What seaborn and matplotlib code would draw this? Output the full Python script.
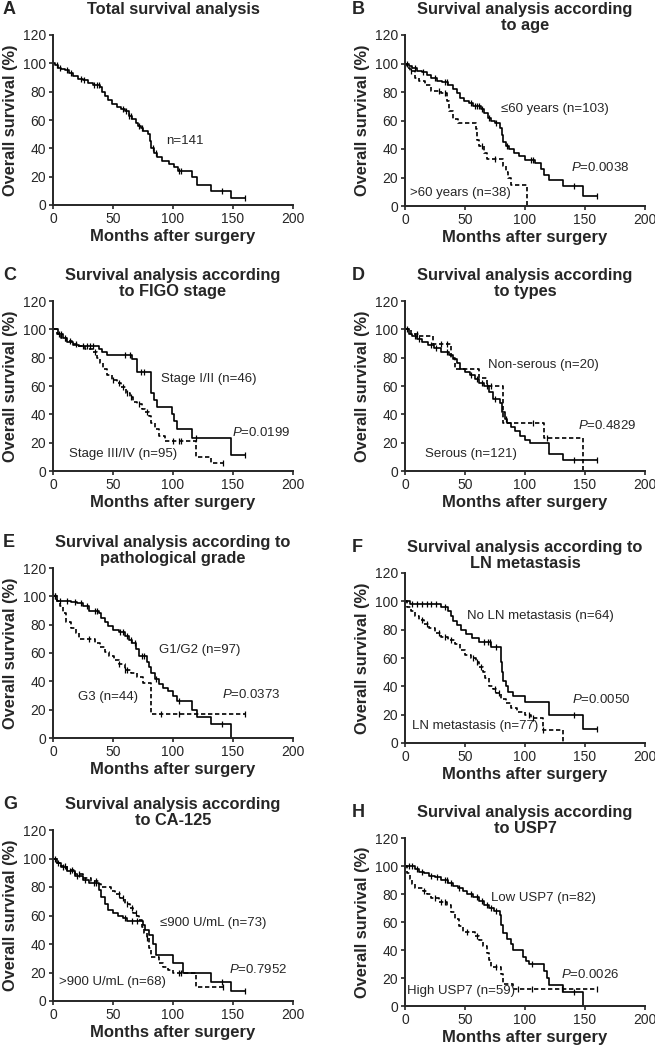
import numpy as np
import pandas as pd
import matplotlib
matplotlib.use("Agg")
import matplotlib.pyplot as plt
import seaborn as sns

# ---- data (months, % surviving) ----
# A: total
A_t = [0, 2, 4, 7, 10, 13, 17, 21, 25, 29, 33, 39, 41, 43, 46, 49, 53, 57, 60, 63, 66, 69, 71, 73, 75, 79, 81, 82, 84, 87, 91, 97, 101, 104, 116, 120, 132, 148, 160]
A_s = [100, 99, 97, 96, 95, 93, 91, 89, 88, 86, 85, 83, 80, 77, 74, 71, 69, 68, 66, 63, 61, 58, 56, 54, 52, 50, 45, 40, 37, 34, 31, 29, 27, 24, 20, 14, 10, 5, 5]
A_c = [3, 6, 12, 15, 23, 26, 34, 37, 38, 58, 61, 63, 65, 72, 74, 83, 86, 105, 107, 141, 160]

# B: age
B1_t = [0, 3, 6, 10, 14, 18, 22, 27, 31, 36, 40, 43, 46, 49, 53, 57, 63, 66, 69, 72, 75, 79, 81, 82, 84, 87, 91, 95, 100, 108, 113, 116, 120, 132, 148, 160]
B1_s = [100, 98, 97, 95, 94, 92, 90, 88, 87, 85, 82, 79, 76, 74, 72, 70, 68, 65, 62, 60, 58, 55, 50, 45, 42, 40, 37, 35, 32, 30, 26, 22, 18, 14, 7, 7]
B1_c = [2, 8, 15, 25, 33, 35, 55, 58, 60, 62, 64, 70, 76, 85, 105, 107, 141, 160]
B2_t = [0, 2, 4, 8, 12, 17, 22, 30, 35, 37, 40, 44, 59, 60, 62, 66, 68, 82, 84, 86, 88, 102]
B2_s = [100, 97, 95, 90, 88, 85, 81, 79, 74, 67, 61, 58, 54, 46, 42, 37, 33, 28, 24, 20, 15, 0]
B2_c = [5, 28, 33, 64, 75]

# C: FIGO stage
C1_t = [0, 4, 8, 12, 17, 22, 38, 41, 45, 66, 70, 82, 84, 87, 99, 101, 103, 116, 148, 160]
C1_s = [100, 97, 94, 91, 89, 88, 86, 84, 82, 79, 70, 55, 50, 45, 40, 35, 30, 23, 11, 11]
C1_c = [5, 7, 25, 28, 31, 33, 60, 64, 73, 76, 119, 160]
C2_t = [0, 3, 7, 11, 16, 21, 27, 33, 37, 39, 42, 45, 49, 53, 57, 61, 64, 67, 70, 74, 77, 80, 82, 85, 88, 93, 119, 132, 142]
C2_s = [100, 97, 94, 92, 90, 88, 86, 84, 80, 76, 72, 68, 64, 62, 59, 55, 52, 49, 47, 44, 42, 39, 34, 30, 25, 21, 10, 6, 6]
C2_c = [10, 14, 19, 35, 50, 55, 58, 62, 65, 72, 78, 100, 105, 107, 142]

# D: histological type
D1_t = [0, 3, 6, 10, 14, 19, 24, 30, 37, 40, 43, 46, 50, 54, 58, 62, 66, 70, 73, 79, 81, 83, 85, 88, 92, 96, 100, 104, 120, 132, 160]
D1_s = [100, 97, 95, 93, 91, 89, 87, 84, 82, 79, 76, 72, 70, 68, 65, 62, 60, 56, 51, 48, 42, 37, 34, 31, 28, 25, 22, 20, 12, 8, 8]
D1_c = [2, 8, 12, 22, 26, 35, 55, 60, 64, 68, 75, 84, 141, 160]
D2_t = [0, 5, 12, 23, 38, 42, 62, 68, 82, 116, 148]
D2_s = [100, 97, 95, 90, 80, 72, 66, 60, 34, 23, 0]
D2_c = [10, 30, 35, 72, 107, 118]

# E: pathological grade
E1_t = [0, 3, 15, 20, 25, 30, 38, 40, 43, 46, 50, 55, 60, 63, 66, 69, 72, 78, 80, 82, 85, 88, 92, 96, 100, 103, 116, 120, 132, 148]
E1_s = [100, 97, 96, 95, 93, 90, 88, 85, 82, 79, 76, 75, 72, 69, 67, 63, 58, 54, 50, 46, 42, 38, 35, 33, 30, 26, 20, 15, 10, 0]
E1_c = [2, 6, 12, 18, 23, 28, 35, 37, 56, 58, 62, 65, 68, 74, 76, 86, 105, 141]
E2_t = [0, 3, 6, 8, 11, 15, 19, 22, 35, 39, 43, 47, 51, 55, 60, 65, 70, 75, 82, 160]
E2_s = [100, 97, 93, 88, 82, 78, 74, 70, 67, 64, 61, 58, 55, 52, 48, 46, 43, 39, 17, 17]
E2_c = [2, 30, 55, 60, 62, 90, 105, 160]

# F: lymph node metastasis
F1_t = [0, 4, 30, 36, 38, 40, 43, 47, 51, 56, 62, 72, 80, 81, 82, 84, 86, 90, 100, 120, 148, 160]
F1_s = [100, 98, 96, 93, 90, 86, 83, 80, 77, 74, 71, 68, 57, 50, 44, 40, 36, 33, 29, 19.5, 10, 10]
F1_c = [6, 10, 14, 18, 22, 26, 33, 66, 69, 71, 76, 141, 160]
F2_t = [0, 2, 5, 8, 12, 16, 20, 25, 30, 36, 42, 46, 50, 55, 59, 62, 65, 67, 70, 73, 76, 80, 84, 88, 93, 100, 105, 115, 132]
F2_s = [100, 96, 93, 90, 87, 84, 81, 78, 75, 73, 70, 66, 62, 60, 57, 54, 50, 46, 40, 38, 35, 31, 28, 25, 22, 19.5, 18, 9, 0]
F2_c = [14, 18, 28, 33, 38, 57, 60, 63, 75, 78, 103, 107, 115]

# G: CA-125
G1_t = [0, 3, 7, 12, 18, 25, 32, 38, 40, 48, 52, 56, 60, 64, 67, 70, 72, 74, 76, 78, 80, 82, 88, 92, 96, 100, 119, 142]
G1_s = [100, 97, 95, 92, 89, 86, 84, 82, 80, 77, 75, 72, 68, 65, 62, 60, 57, 52, 48, 44, 37, 31, 27, 24, 22, 20, 10, 10]
G1_c = [4, 10, 16, 22, 36, 55, 58, 62, 66, 69, 78, 105, 107, 142]
G2_t = [0, 3, 7, 12, 18, 25, 30, 38, 40, 43, 46, 50, 54, 58, 62, 75, 77, 80, 83, 86, 100, 108, 132, 148, 160]
G2_s = [100, 97, 94, 91, 88, 85, 83, 78, 73, 68, 64, 62, 60, 58, 56, 53, 50, 46, 40, 32, 27, 20, 13.5, 7, 7]
G2_c = [2, 8, 14, 20, 27, 34, 36, 60, 66, 70, 141, 160]

# H: USP7 expression
H1_t = [0, 8, 12, 16, 20, 25, 30, 36, 40, 44, 48, 52, 57, 62, 66, 70, 74, 79, 80, 82, 85, 88, 90, 98, 101, 103, 116, 118, 120, 132, 148]
H1_s = [100, 98, 96, 95, 93, 92, 90, 88, 86, 84, 82, 80, 78, 75, 72, 70, 68, 65, 58, 52, 48, 44, 40, 35, 32, 30, 25, 20, 15, 10, 0]
H1_c = [3, 6, 10, 14, 22, 27, 33, 35, 38, 45, 55, 60, 64, 68, 72, 76, 106, 141]
H2_t = [0, 2, 4, 6, 8, 15, 18, 22, 28, 35, 38, 42, 45, 48, 58, 62, 65, 68, 70, 72, 80, 82, 90, 160]
H2_s = [100, 95, 91, 87, 84, 82, 80, 77, 74, 72, 67, 62, 57, 53, 50, 47, 43, 38, 33, 28, 23, 16, 12, 12]
H2_c = [16, 25, 30, 33, 52, 60, 76, 94, 106, 131, 160]

# ---- style ----
sns.set_style("ticks")
plt.rcParams['font.family'] = ['Liberation Sans', 'DejaVu Sans']
plt.rcParams['mathtext.fontset'] = 'custom'
plt.rcParams['mathtext.it'] = 'Liberation Sans:italic'
plt.rcParams['mathtext.rm'] = 'Liberation Sans'

W, H = 655, 1049
fig = plt.figure(figsize=(W / 100, H / 100), dpi=100)


def step_at(t, s, c):
    idx = np.searchsorted(np.asarray(t), np.asarray(c), side='right') - 1
    return np.asarray(s, dtype=float)[idx]


def draw_curve(ax, t, s, cens, dashed):
    ls = (0, (2.6, 1.6)) if dashed else '-'
    sns.lineplot(x=t, y=s, ax=ax, color='black', lw=1.2, linestyle=ls,
                 drawstyle='steps-post', estimator=None, sort=False)
    if cens:
        df = pd.DataFrame({'t': cens, 's': step_at(t, s, cens)})
        sns.scatterplot(data=df, x='t', y='s', ax=ax, marker='|', s=22,
                        color='black', linewidth=0.9, legend=False, zorder=3)


def make_panel(x0, y_top, y_bot, letter, title, curves, notes):
    ax = fig.add_axes([x0 / W, 1 - y_bot / H, 240 / W, (y_bot - y_top) / H])
    for t, s, c, d in curves:
        draw_curve(ax, t, s, c, d)
    ax.set_xlim(0, 200)
    ax.set_ylim(0, 120)
    ax.set_xticks([0, 50, 100, 150, 200])
    ax.set_yticks([0, 20, 40, 60, 80, 100, 120])
    ax.tick_params(direction='out', length=3.2, width=1.2, labelsize=10, pad=2)
    for sp in ['left', 'bottom']:
        ax.spines[sp].set_linewidth(1.4)
    sns.despine(ax=ax)
    ax.set_xlabel("Months after surgery", fontsize=12, fontweight='bold', labelpad=2)
    ax.set_ylabel("Overall survival (%)", fontsize=11.8, fontweight='bold', labelpad=3)
    for x, y, txt in notes:
        ax.text(x, y, txt, fontsize=9.5, va='center', ha='left')
    cx = (x0 + 120) / W
    fig.text(cx, 1 - (y_top - 33) / H, title, ha='center', va='top',
             fontsize=11.8, fontweight='bold', linespacing=1.12)
    lx = 3 if x0 < 300 else 352
    fig.text(lx / W, 1 - (y_top - 34) / H, letter, ha='left', va='top',
             fontsize=13, fontweight='bold')
    return ax


make_panel(53, 35, 205, "A", "Total survival analysis",
           [(A_t, A_s, A_c, False)],
           [(94, 45, "n=141")])
make_panel(405, 35, 206, "B", "Survival analysis according\nto age",
           [(B1_t, B1_s, B1_c, False), (B2_t, B2_s, B2_c, True)],
           [(80, 68, "≤60 years (n=103)"), (138, 27, "$\\mathit{P}$=0.0038"),
            (4, 9, ">60 years (n=38)")])
make_panel(53, 301, 471, "C", "Survival analysis according\nto FIGO stage",
           [(C1_t, C1_s, C1_c, False), (C2_t, C2_s, C2_c, True)],
           [(90, 65, "Stage I/II (n=46)"), (149, 27, "$\\mathit{P}$=0.0199"),
            (13, 12, "Stage III/IV (n=95)")])
make_panel(405, 301, 471, "D", "Survival analysis according\nto types",
           [(D1_t, D1_s, D1_c, False), (D2_t, D2_s, D2_c, True)],
           [(69, 75, "Non-serous (n=20)"), (144, 32, "$\\mathit{P}$=0.4829"),
            (17, 12, "Serous (n=121)")])
make_panel(53, 568, 738, "E", "Survival analysis according to\npathological grade",
           [(E1_t, E1_s, E1_c, False), (E2_t, E2_s, E2_c, True)],
           [(88, 62, "G1/G2 (n=97)"), (141, 31, "$\\mathit{P}$=0.0373"),
            (21, 29, "G3 (n=44)")])
make_panel(405, 573, 743, "F", "Survival analysis according to\nLN metastasis",
           [(F1_t, F1_s, F1_c, False), (F2_t, F2_s, F2_c, True)],
           [(52, 90, "No LN metastasis (n=64)"), (139, 31, "$\\mathit{P}$=0.0050"),
            (6, 12, "LN metastasis (n=77)")])
make_panel(53, 830, 1001, "G", "Survival analysis according\nto CA-125",
           [(G1_t, G1_s, G1_c, True), (G2_t, G2_s, G2_c, False)],
           [(89, 55, "≤900 U/mL (n=73)"), (147, 22, "$\\mathit{P}$=0.7952"),
            (5, 13, ">900 U/mL (n=68)")])
make_panel(405, 838, 1006, "H", "Survival analysis according\nto USP7",
           [(H1_t, H1_s, H1_c, False), (H2_t, H2_s, H2_c, True)],
           [(72, 77, "Low USP7 (n=82)"), (130, 22.5, "$\\mathit{P}$=0.0026"),
            (2, 10.7, "High USP7 (n=59)")])

fig.savefig("out.png", dpi=100)
